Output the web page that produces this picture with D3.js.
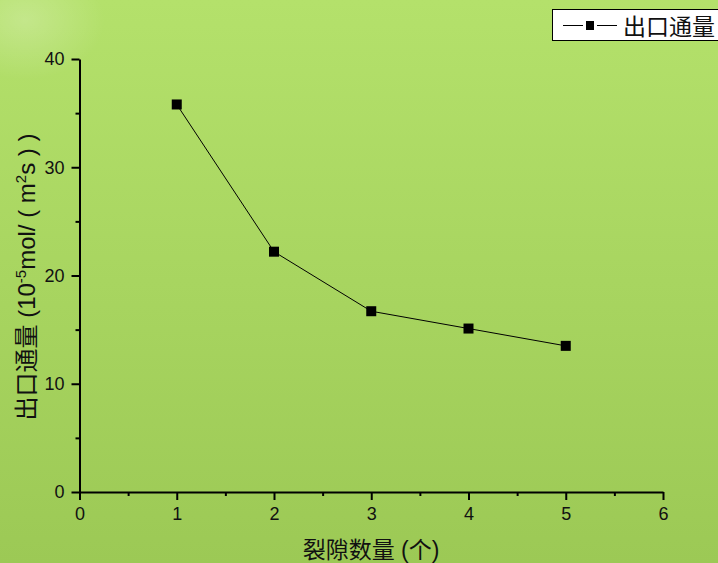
<!DOCTYPE html>
<html>
<head>
<meta charset="utf-8">
<script src="https://cdn.jsdelivr.net/npm/d3@7"></script>
<style>
  html, body { margin: 0; padding: 0; }
  svg { display: block; }
  text { font-family: "Liberation Sans", Arial, "Noto Sans CJK SC", sans-serif; }
</style>
</head>
<body>
<svg id="chart" width="718" height="563"></svg>
<script>
// Outlet flux versus number of fractures
const fractureCounts = [1, 2, 3, 4, 5];
const outletFlux = [35.8, 22.2, 16.7, 15.1, 13.5];
const xTicks = [0, 1, 2, 3, 4, 5, 6];
const yTicks = [0, 10, 20, 30, 40];
const seriesName = "出口通量";
const xTitle = "裂隙数量 (个)";

const svg = d3.select("#chart");
const W = 718, H = 563;
const cjk = '"Noto Sans CJK SC", sans-serif';

// background
const defs = svg.append("defs");
const bg = defs.append("linearGradient").attr("id", "bg").attr("x1", 0).attr("y1", 0).attr("x2", 0).attr("y2", 1);
bg.append("stop").attr("offset", "0%").attr("stop-color", "#b4e16b");
bg.append("stop").attr("offset", "100%").attr("stop-color", "#9cc955");
const haze = defs.append("radialGradient").attr("id", "haze").attr("cx", 0.5).attr("cy", 0.5).attr("r", 0.5);
haze.append("stop").attr("offset", "0%").attr("stop-color", "#ffffff").attr("stop-opacity", 0.22);
haze.append("stop").attr("offset", "100%").attr("stop-color", "#ffffff").attr("stop-opacity", 0);
svg.append("rect").attr("width", W).attr("height", H).attr("fill", "url(#bg)");
svg.append("ellipse").attr("cx", 25).attr("cy", 20).attr("rx", 80).attr("ry", 60).attr("fill", "url(#haze)");

const x = d3.scaleLinear().domain([0, 6]).range([79.5, 663]);
const y = d3.scaleLinear().domain([0, 40]).range([492, 59]);

// minor ticks
const gx = svg.append("g").attr("transform", `translate(0,${y(0)})`);
gx.call(d3.axisBottom(x).tickValues(d3.range(0.5, 6, 1)).tickSize(4).tickFormat(""));
gx.select(".domain").remove();
const gy = svg.append("g").attr("transform", `translate(${x(0)},0)`);
gy.call(d3.axisLeft(y).tickValues(d3.range(5, 40, 10)).tickSize(4).tickFormat(""));
gy.select(".domain").remove();

// major axes
const ax = svg.append("g").attr("transform", `translate(0,${y(0)})`)
  .call(d3.axisBottom(x).tickValues(xTicks).tickSize(8).tickSizeOuter(0).tickPadding(5).tickFormat(d3.format("d")));
const ay = svg.append("g").attr("transform", `translate(${x(0)},0)`)
  .call(d3.axisLeft(y).tickValues(yTicks).tickSize(8).tickSizeOuter(0).tickPadding(7).tickFormat(d3.format("d")));
[ax, ay, gx, gy].forEach(g => {
  g.selectAll("line").attr("stroke", "#000").attr("stroke-width", 2);
  g.selectAll(".domain").attr("stroke", "#000").attr("stroke-width", 2);
  g.selectAll("text").attr("font-size", 18).attr("fill", "#111").attr("font-family", "Liberation Sans, Arial, sans-serif");
});
ax.selectAll("text").attr("dy", "0.85em");

// series line + markers
const pts = fractureCounts.map((c, i) => [c, outletFlux[i]]);
svg.append("path")
  .datum(pts)
  .attr("fill", "none").attr("stroke", "#000").attr("stroke-width", 1)
  .attr("d", d3.line().x(d => x(d[0])).y(d => y(d[1])));
svg.selectAll("rect.pt").data(pts).enter().append("rect")
  .attr("class", "pt")
  .attr("x", d => x(d[0]) - 5).attr("y", d => y(d[1]) - 5)
  .attr("width", 10).attr("height", 10).attr("fill", "#000");

// axis titles
svg.append("text")
  .attr("x", 371).attr("y", 558)
  .attr("text-anchor", "middle").attr("font-size", 23).attr("fill", "#111")
  .attr("font-family", cjk)
  .text(xTitle);

const yt = svg.append("text")
  .attr("transform", "translate(35,277) rotate(-90)")
  .attr("text-anchor", "middle").attr("font-size", 24).attr("fill", "#111")
  .attr("font-family", cjk);
yt.append("tspan").text("出口通量 (10");
yt.append("tspan").attr("font-size", 15).attr("dy", -9).text("-5");
yt.append("tspan").attr("dy", 9).text("mol/ ( m");
yt.append("tspan").attr("font-size", 15).attr("dy", -9).text("2");
yt.append("tspan").attr("dy", 9).text("s ) )");

// legend
const lg = svg.append("g");
lg.append("rect").attr("x", 552.5).attr("y", 9.5).attr("width", 180).attr("height", 31)
  .attr("fill", "#fff").attr("stroke", "#000").attr("stroke-width", 1);
lg.append("line").attr("x1", 563).attr("x2", 583).attr("y1", 25.5).attr("y2", 25.5)
  .attr("stroke", "#000").attr("stroke-width", 1);
lg.append("line").attr("x1", 597).attr("x2", 617).attr("y1", 25.5).attr("y2", 25.5)
  .attr("stroke", "#000").attr("stroke-width", 1);
lg.append("rect").attr("x", 586).attr("y", 21).attr("width", 8).attr("height", 9).attr("fill", "#000");
lg.append("text").attr("x", 623).attr("y", 35).attr("font-size", 23).attr("fill", "#111")
  .attr("font-family", cjk).text(seriesName);
</script>
</body>
</html>
